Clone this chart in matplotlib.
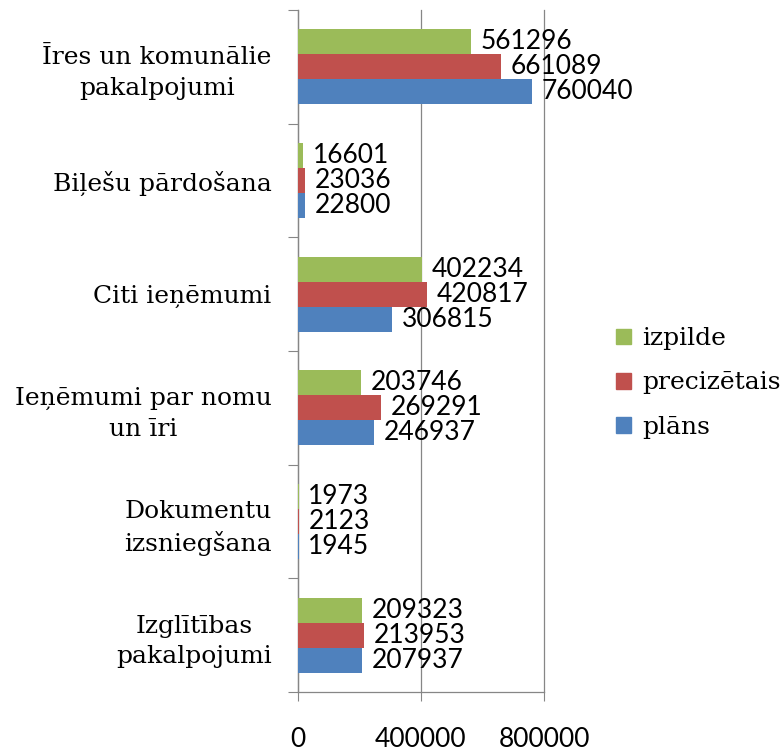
import numpy as np
import matplotlib.pyplot as plt
from matplotlib.patches import Patch

categories = ["Īres un komunālie\npakalpojumi", "Biļešu pārdošana", "Citi ieņēmumi",
              "Ieņēmumi par nomu\nun īri", "Dokumentu\nizsniegšana", "Izglītības\npakalpojumi"]
izpilde = [561296, 16601, 402234, 203746, 1973, 209323]
precizetais = [661089, 23036, 420817, 269291, 2123, 213953]
plans = [760040, 22800, 306815, 246937, 1945, 207937]
xticks = [0, 400000, 800000]

c_green, c_red, c_blue = "#9BBB59", "#C0504D", "#4F81BD"
axcol = "#868686"
serif = "DejaVu Serif"
sans = "Lato"

fig = plt.figure(figsize=(7.84, 7.53), dpi=100)
ax = fig.add_axes([298 / 784, 1 - 692 / 753, 246 / 784, 682 / 753])

n = len(categories)
y = np.arange(n)[::-1].astype(float)
h = 0.22

series = [(plans, c_blue, -h), (precizetais, c_red, 0), (izpilde, c_green, h)]
for vals, col, off in series:
    bars = ax.barh(y + off, vals, height=h, color=col, edgecolor="none", zorder=3)
    for b, v in zip(bars, vals):
        ax.annotate(str(v), (b.get_width(), b.get_y() + h / 2), xytext=(7, 0),
                    textcoords="offset points", va="center", ha="left",
                    fontsize=19, family=sans, color="black", zorder=4)

ax.set_xlim(0, 800000)
ax.set_ylim(-0.5, n - 0.5)
ax.set_xticks(xticks)
ax.set_xticklabels([str(t) for t in xticks], family=sans, fontsize=19)
ax.tick_params(axis="x", length=6.5, color=axcol, pad=19)
ax.xaxis.grid(True, color=axcol, linewidth=0.9, zorder=0)
for gl in ax.get_xgridlines():
    gl.set_clip_on(False)

ax.set_yticks(np.arange(n + 1) - 0.5)
ax.set_yticklabels([])
ax.tick_params(axis="y", which="major", length=7, color=axcol)
ax.set_yticks(y, minor=True)
ax.set_yticklabels(categories, minor=True, family=serif, fontsize=18,
                   multialignment="center", linespacing=1.4)
ax.tick_params(axis="y", which="minor", length=0, pad=19)

for s in ["top", "right"]:
    ax.spines[s].set_visible(False)
for s in ["left", "bottom"]:
    ax.spines[s].set_color(axcol)
    ax.spines[s].set_linewidth(0.9)

handles = [Patch(color=c_green), Patch(color=c_red), Patch(color=c_blue)]
fig.legend(handles, ["izpilde", "precizētais", "plāns"], loc="center left",
           bbox_to_anchor=(616 / 784, 1 - 383 / 753), frameon=False,
           prop={"family": serif, "size": 18}, handlelength=0.6, handleheight=0.6,
           handletextpad=0.45, labelspacing=0.85, borderpad=0, borderaxespad=0)

fig.savefig("out.png", dpi=100)
